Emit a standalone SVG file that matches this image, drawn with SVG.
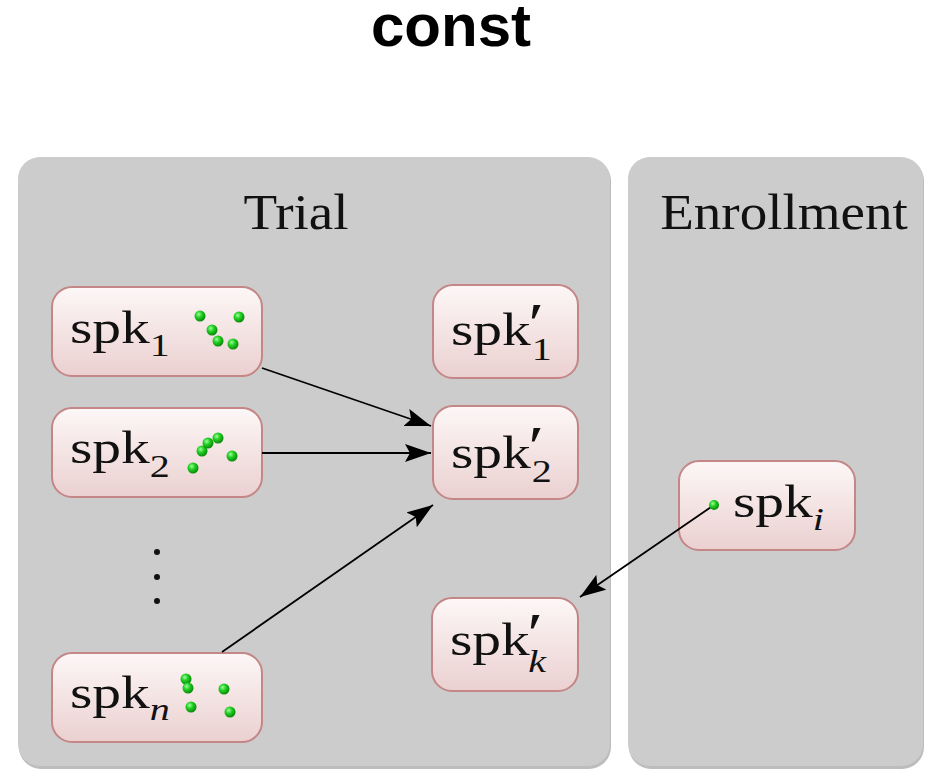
<svg xmlns="http://www.w3.org/2000/svg" width="940" height="781" viewBox="0 0 940 781">
<style>
.title{font-family:"Liberation Sans",Arial,sans-serif;font-weight:bold;font-size:60px;fill:#000}
.head{font-family:"Liberation Serif","Times New Roman",serif;font-size:51px;fill:#111}
.lbl{font-family:"Liberation Serif","Times New Roman",serif;font-size:46px;fill:#111}
.sub{font-size:32px}
.pr{font-size:58px}
.it{font-style:italic}
.panel{fill:#cccccc}
.pshadow{fill:#bdbdbd}
.node{fill:url(#ng);stroke:#c48686;stroke-width:2}
.dot{fill:url(#dg)}
.conn{stroke:#000;stroke-width:1.8;fill:none;marker-end:url(#ah)}
</style>
<defs>
<linearGradient id="ng" x1="0" y1="0" x2="0" y2="1">
<stop offset="0" stop-color="#fdf7f7"/>
<stop offset="1" stop-color="#ebd0d0"/>
</linearGradient>
<radialGradient id="dg" cx="0.38" cy="0.35" r="0.65">
<stop offset="0" stop-color="#9dff9d"/>
<stop offset="0.45" stop-color="#22d022"/>
<stop offset="1" stop-color="#0a8a0a"/>
</radialGradient>
<marker id="ah" markerUnits="userSpaceOnUse" markerWidth="26" markerHeight="18" viewBox="0 0 26 18" refX="26" refY="9" orient="auto">
<path d="M0,0 L26,9 L0,18 L5,9 z" fill="#000"/>
</marker>
</defs>

<text class="title" x="451" y="46" text-anchor="middle">const</text>

<g id="trial">
<rect class="pshadow" x="19" y="159" width="592" height="610" rx="22"/>
<rect class="panel" x="18" y="157" width="592" height="609" rx="22"/>
<g transform="translate(296,229) scale(1.08,1)"><text class="head" x="0" y="0" text-anchor="middle">Trial</text></g>
</g>
<g id="enrollment">
<rect class="pshadow" x="629" y="159" width="295" height="610" rx="22"/>
<rect class="panel" x="628" y="157" width="295" height="609" rx="22"/>
<g transform="translate(784,229) scale(1.08,1)"><text class="head" x="0" y="0" text-anchor="middle">Enrollment</text></g>
</g>

<g id="spk1">
<rect class="node" x="52" y="287" width="210" height="89" rx="20"/>
<g transform="translate(70,343) scale(1.25,1)"><text class="lbl" x="0" y="0">spk<tspan class="sub" dy="13">1</tspan></text></g>
<circle class="dot" cx="200" cy="316" r="5.5"/>
<circle class="dot" cx="239" cy="317" r="5.5"/>
<circle class="dot" cx="212" cy="330" r="5.5"/>
<circle class="dot" cx="218" cy="341" r="5.5"/>
<circle class="dot" cx="233" cy="344" r="5.5"/>
</g>

<g id="spk2">
<rect class="node" x="52" y="408" width="210" height="89" rx="20"/>
<g transform="translate(70,463) scale(1.25,1)"><text class="lbl" x="0" y="0">spk<tspan class="sub" dy="14">2</tspan></text></g>
<circle class="dot" cx="193" cy="468" r="5.5"/>
<circle class="dot" cx="202" cy="451" r="5.5"/>
<circle class="dot" cx="208" cy="443" r="5.5"/>
<circle class="dot" cx="218" cy="438" r="5.5"/>
<circle class="dot" cx="232" cy="456" r="5.5"/>
</g>

<g id="vdots">
<circle cx="157" cy="552" r="3" fill="#111"/>
<circle cx="157" cy="577" r="3" fill="#111"/>
<circle cx="157" cy="601" r="3" fill="#111"/>
</g>

<g id="spkn">
<rect class="node" x="52" y="653" width="210" height="89" rx="20"/>
<g transform="translate(70,708) scale(1.25,1)"><text class="lbl" x="0" y="0">spk<tspan class="sub it" dy="12">n</tspan></text></g>
<circle class="dot" cx="186" cy="679" r="5.5"/>
<circle class="dot" cx="188" cy="688" r="5.5"/>
<circle class="dot" cx="191" cy="707" r="5.5"/>
<circle class="dot" cx="224" cy="689" r="5.5"/>
<circle class="dot" cx="230" cy="712" r="5.5"/>
</g>

<g id="spkp1">
<rect class="node" x="433" y="285" width="145" height="93" rx="20"/>
<g transform="translate(451,345) scale(1.25,1)"><text class="lbl" x="0" y="0">spk<tspan class="pr" dx="-2" dy="-2">′</tspan><tspan class="sub" dx="-10" dy="17">1</tspan></text></g>
</g>

<g id="spkp2">
<rect class="node" x="433" y="406" width="145" height="93" rx="20"/>
<g transform="translate(451,468) scale(1.25,1)"><text class="lbl" x="0" y="0">spk<tspan class="pr" dx="-2" dy="-2">′</tspan><tspan class="sub" dx="-10" dy="16">2</tspan></text></g>
</g>

<g id="spkpk">
<rect class="node" x="432" y="598" width="146" height="93" rx="20"/>
<g transform="translate(450,655) scale(1.25,1)"><text class="lbl" x="0" y="0">spk<tspan class="pr" dx="-2" dy="-2">′</tspan><tspan class="sub it" dx="-12" dy="19">k</tspan></text></g>
</g>

<g id="spki">
<rect class="node" x="679" y="461" width="176" height="89" rx="20"/>
<g transform="translate(733,517) scale(1.25,1)"><text class="lbl" x="0" y="0">spk<tspan class="sub it" dy="13">i</tspan></text></g>
</g>

<g id="connectors">
<line class="conn" x1="262" y1="368" x2="431" y2="426"/>
<line class="conn" x1="262" y1="453" x2="431" y2="453"/>
<line class="conn" x1="222" y1="652" x2="433" y2="505"/>
<line class="conn" x1="714" y1="505" x2="580" y2="597"/>
<circle class="dot" cx="714" cy="505" r="5"/>
</g>
</svg>
